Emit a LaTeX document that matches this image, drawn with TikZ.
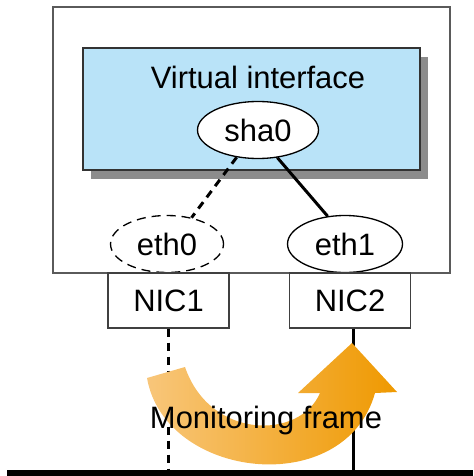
\documentclass[tikz,border=0pt]{standalone}
\usepackage{fontspec}
\setmainfont{Liberation Sans}
\usepackage{tikz}
\usetikzlibrary{shapes.geometric, shadows, positioning}
\definecolor{vifill}{HTML}{B9E3F8}
\definecolor{shadowgray}{HTML}{8C8C8C}
\definecolor{hostgray}{HTML}{5A5A5A}
\definecolor{frameL}{HTML}{F8C67A}
\definecolor{frameR}{HTML}{EF9900}

\begin{document}
\begin{tikzpicture}[
    x=0.02cm, y=-0.02cm,
    font=\fontsize{17.6pt}{21pt}\selectfont,
    host/.style={
        draw=hostgray,
        rectangle,
        minimum width=7.94cm,
        minimum height=5.32cm,
        inner sep=0pt,
        line width=0.85pt
    },
    vif/.style={
        draw=black!80,
        fill=vifill,
        rectangle,
        minimum width=6.74cm,
        minimum height=2.44cm,
        inner sep=0pt,
        line width=0.85pt,
        drop shadow={shadow xshift=0.16cm, shadow yshift=-0.18cm,
                     fill=shadowgray, opacity=1}
    },
    iface/.style={
        draw=black,
        fill=white,
        ellipse,
        minimum height=1.14cm,
        inner sep=0pt,
        line width=0.75pt
    },
    nic/.style={
        draw=black!75,
        fill=white,
        rectangle,
        minimum width=2.42cm,
        minimum height=1.1cm,
        inner sep=0pt,
        line width=0.75pt
    },
    link/.style={
        line width=1.7pt,
        draw=black
    },
    idle/.style={
        link,
        dash pattern=on 0.16cm off 0.12cm
    },
    bus/.style={
        line width=3.6pt,
        draw=black
    }
]
\useasboundingbox (0,0) rectangle (473,476);

% ============================================================
% Host with virtual interface
% ============================================================

\node[host] (srv) at (251.5,140) {};
\node[vif]  (vi)  at (251.5,109) {};
\node (vilabel) at (258,77) {Virtual interface};

\node[iface, minimum width=2.42cm] (sha0) at (258,130) {sha0};
\node[iface, minimum width=2.26cm, dash pattern=on 0.18cm off 0.12cm] (eth0) at (167,244) {eth0};
\node[iface, minimum width=2.30cm] (eth1) at (345,244) {eth1};

\draw[idle] (sha0.232) -- (eth0.47);
\draw[link] (sha0.305) -- (eth1.122);

% ============================================================
% NICs and LAN
% ============================================================

\node[nic] (nic1) at (168.5,300.5) {NIC1};
\node[nic] (nic2) at (350,300.5) {NIC2};

\coordinate (busL) at (7,473);
\coordinate (busR) at (473,473);
\draw[bus] (busL) -- (busR);

\draw[idle] (nic1.south) -- (nic1.south |- busL);
\draw[link] (nic2.south) ++(3,0) coordinate (n2) -- (n2 |- busL);

% ============================================================
% Monitoring frame, bent arrow from NIC1 to NIC2
% ============================================================

\shade[left color=frameL, right color=frameR]
    (147,378) .. controls (165,480) and (345,500) .. (375,393)
    -- (397,392) -- (352,343) -- (298,393) -- (320,393)
    .. controls (300,440) and (210,440) .. (185,367) -- cycle;

\node (mon) at (266,421) {Monitoring frame};
\end{tikzpicture}
\end{document}
